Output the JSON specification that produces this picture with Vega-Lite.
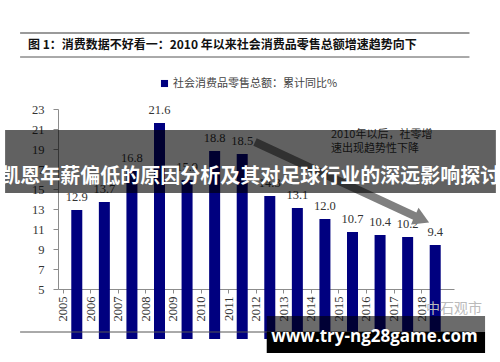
{
  "$schema": "https://vega.github.io/schema/vega-lite/v6.json",
  "autosize": "none",
  "width": 396,
  "height": 180,
  "padding": {"left": 58, "top": 109, "right": 46, "bottom": 73},
  "background": "white",
  "config": {"view": {"stroke": null}},
  "resolve": {"axis": {"x": "independent", "y": "independent"}},
  "layer": [
    {
      "data": {"values": [
        {"year": 2005, "value": 12.9},
        {"year": 2006, "value": 13.7},
        {"year": 2007, "value": 16.8},
        {"year": 2008, "value": 21.6},
        {"year": 2009, "value": 15.9},
        {"year": 2010, "value": 18.8},
        {"year": 2011, "value": 18.5},
        {"year": 2012, "value": 14.3},
        {"year": 2013, "value": 13.1},
        {"year": 2014, "value": 12.0},
        {"year": 2015, "value": 10.7},
        {"year": 2016, "value": 10.4},
        {"year": 2017, "value": 10.2},
        {"year": 2018, "value": 9.4}
      ]},
      "encoding": {
        "x": {
          "field": "year", "type": "quantitative",
          "scale": {"domain": [2004.5, 2018.5], "nice": false, "zero": false},
          "axis": {
            "orient": "bottom", "title": null, "values": [2005, 2006, 2007, 2008, 2009, 2010, 2011, 2012, 2013, 2014, 2015, 2016, 2017, 2018],
            "format": "d", "labelAngle": 270, "labelFont": "Liberation Serif", "labelFontSize": 12.5,
            "labelColor": "#333", "labelPadding": 3, "labelOverlap": false, "labelFlush": false, "tickOffset": -14.14, "tickSize": 4,
            "tickColor": "#8c8c8c", "domainColor": "#8c8c8c", "grid": false
          }
        },
        "y": {
          "field": "value", "type": "quantitative",
          "scale": {"domain": [5, 23], "nice": false, "zero": false},
          "axis": {
            "orient": "left", "title": null, "values": [5, 7, 9, 11, 13, 15, 17, 19, 21, 23], "labelOverlap": false, "labelFont": "Liberation Serif",
            "labelFontSize": 12.5, "labelColor": "#333", "tickSize": 5, "labelPadding": 9, "labelFlush": false,
            "tickColor": "#8c8c8c", "domainColor": "#8c8c8c", "grid": false
          }
        }
      },
      "layer": [
        {
          "mark": {"type": "bar", "size": 11},
          "encoding": {
            "color": {
              "datum": "社会消费品零售总额：累计同比%", "type": "nominal",
              "scale": {"range": ["#00007F"]},
              "legend": {
                "title": null, "orient": "none", "legendX": 101, "legendY": -31,
                "symbolType": "square", "symbolSize": 50, "labelFont": "Noto Sans CJK SC",
                "labelFontSize": 11, "labelColor": "#444", "labelOffset": 3, "labelLimit": 400
              }
            }
          }
        },
        {
          "mark": {"type": "text", "baseline": "bottom", "dy": -6, "font": "Liberation Serif", "fontSize": 12.5, "color": "#333"},
          "encoding": {"text": {"field": "value", "type": "quantitative", "format": ".1f"}}
        }
      ]
    },
    {
      "data": {"values": [{}]},
      "layer": [
        {
          "mark": {"type": "rule", "color": "#9a9a9a", "strokeWidth": 2},
          "encoding": {
            "x": {"datum": 2002.944, "type": "quantitative", "axis": null, "scale": {"domain": [2004.5, 2018.5], "nice": false, "zero": false}},
            "x2": {"datum": 2019.242},
            "y": {"datum": 30.6, "type": "quantitative", "axis": null, "scale": {"domain": [5, 23], "nice": false, "zero": false}}
          }
        },
        {
          "mark": {"type": "rule", "color": "#555", "strokeWidth": 1},
          "encoding": {
            "x": {"datum": 2002.944, "type": "quantitative", "axis": null, "scale": {"domain": [2004.5, 2018.5], "nice": false, "zero": false}},
            "x2": {"datum": 2019.242},
            "y": {"datum": 28.2, "type": "quantitative", "axis": null, "scale": {"domain": [5, 23], "nice": false, "zero": false}}
          }
        },
        {
          "mark": {"type": "rule", "color": "#555", "strokeWidth": 1},
          "encoding": {
            "x": {"datum": 2002.944, "type": "quantitative", "axis": null, "scale": {"domain": [2004.5, 2018.5], "nice": false, "zero": false}},
            "x2": {"datum": 2019.242},
            "y": {"datum": 0.7, "type": "quantitative", "axis": null, "scale": {"domain": [5, 23], "nice": false, "zero": false}}
          }
        },
        {
          "mark": {"type": "text", "text": "图 1：消费数据不好看一：2010 年以来社会消费品零售总额增速趋势向下", "align": "left", "baseline": "middle", "font": "Noto Sans CJK SC", "fontWeight": "bold", "fontSize": 12, "color": "#111"},
          "encoding": {
            "x": {"datum": 2003.227, "type": "quantitative", "axis": null, "scale": {"domain": [2004.5, 2018.5], "nice": false, "zero": false}},
            "y": {"datum": 29.4, "type": "quantitative", "axis": null, "scale": {"domain": [5, 23], "nice": false, "zero": false}}
          }
        },
        {
          "mark": {"type": "rule", "color": "#808080", "strokeWidth": 8, "strokeCap": "butt"},
          "encoding": {
            "x": {"datum": 2011.465, "type": "quantitative", "axis": null, "scale": {"domain": [2004.5, 2018.5], "nice": false, "zero": false}},
            "y": {"datum": 19.7, "type": "quantitative", "axis": null, "scale": {"domain": [5, 23], "nice": false, "zero": false}},
            "x2": {"datum": 2017.298},
            "y2": {"datum": 12.24}
          }
        },
        {
          "mark": {"type": "point", "shape": "triangle", "filled": true, "color": "#808080", "opacity": 1, "size": 330, "angle": 114.3},
          "encoding": {
            "x": {"datum": 2017.432, "type": "quantitative", "axis": null, "scale": {"domain": [2004.5, 2018.5], "nice": false, "zero": false}},
            "y": {"datum": 12.07, "type": "quantitative", "axis": null, "scale": {"domain": [5, 23], "nice": false, "zero": false}}
          }
        },
        {
          "mark": {"type": "text", "text": ["2010年以后，社零增", "速出现趋势性下降"], "align": "left", "baseline": "top", "lineHeight": 14, "font": "Noto Sans CJK SC", "fontSize": 11, "color": "#333"},
          "encoding": {
            "x": {"datum": 2014.22, "type": "quantitative", "axis": null, "scale": {"domain": [2004.5, 2018.5], "nice": false, "zero": false}},
            "y": {"datum": 21.0, "type": "quantitative", "axis": null, "scale": {"domain": [5, 23], "nice": false, "zero": false}}
          }
        },
        {
          "mark": {"type": "rect", "color": "black", "opacity": 0.62},
          "encoding": {
            "x": {"datum": 2002.4, "type": "quantitative", "axis": null, "scale": {"domain": [2004.5, 2018.5], "nice": false, "zero": false}},
            "x2": {"datum": 2020.2},
            "y": {"datum": 20.9, "type": "quantitative", "axis": null, "scale": {"domain": [5, 23], "nice": false, "zero": false}},
            "y2": {"datum": 14.6}
          }
        },
        {
          "mark": {"type": "text", "text": "凯恩年薪偏低的原因分析及其对足球行业的深远影响探讨", "align": "center", "baseline": "middle", "font": "Noto Sans CJK SC", "fontWeight": "bold", "fontSize": 20, "color": "white"},
          "encoding": {
            "x": {"datum": 2011.288, "type": "quantitative", "axis": null, "scale": {"domain": [2004.5, 2018.5], "nice": false, "zero": false}},
            "y": {"datum": 16.2, "type": "quantitative", "axis": null, "scale": {"domain": [5, 23], "nice": false, "zero": false}}
          }
        },
        {
          "mark": {"type": "text", "text": "中石观市", "align": "center", "baseline": "middle", "font": "Noto Sans CJK SC", "fontSize": 14, "color": "#bbbbbb"},
          "encoding": {
            "x": {"datum": 2018.677, "type": "quantitative", "axis": null, "scale": {"domain": [2004.5, 2018.5], "nice": false, "zero": false}},
            "y": {"datum": 3.0, "type": "quantitative", "axis": null, "scale": {"domain": [5, 23], "nice": false, "zero": false}}
          }
        },
        {
          "mark": {"type": "rect", "color": "black", "opacity": 0.58},
          "encoding": {
            "x": {"datum": 2011.889, "type": "quantitative", "axis": null, "scale": {"domain": [2004.5, 2018.5], "nice": false, "zero": false}},
            "x2": {"datum": 2019.808},
            "y": {"datum": 2.3, "type": "quantitative", "axis": null, "scale": {"domain": [5, 23], "nice": false, "zero": false}},
            "y2": {"datum": 0.7}
          }
        },
        {
          "mark": {"type": "rect", "color": "black", "opacity": 1},
          "encoding": {
            "x": {"datum": 2011.889, "type": "quantitative", "axis": null, "scale": {"domain": [2004.5, 2018.5], "nice": false, "zero": false}},
            "x2": {"datum": 2019.808},
            "y": {"datum": 0.7, "type": "quantitative", "axis": null, "scale": {"domain": [5, 23], "nice": false, "zero": false}},
            "y2": {"datum": -1.4}
          }
        },
        {
          "mark": {"type": "text", "text": "www.try-ng28game.com", "align": "center", "baseline": "middle", "font": "Open Sans", "fontWeight": "bold", "fontSize": 17, "color": "white"},
          "encoding": {
            "x": {"datum": 2015.795, "type": "quantitative", "axis": null, "scale": {"domain": [2004.5, 2018.5], "nice": false, "zero": false}},
            "y": {"datum": 0.2, "type": "quantitative", "axis": null, "scale": {"domain": [5, 23], "nice": false, "zero": false}}
          }
        }
      ]
    }
  ]
}
